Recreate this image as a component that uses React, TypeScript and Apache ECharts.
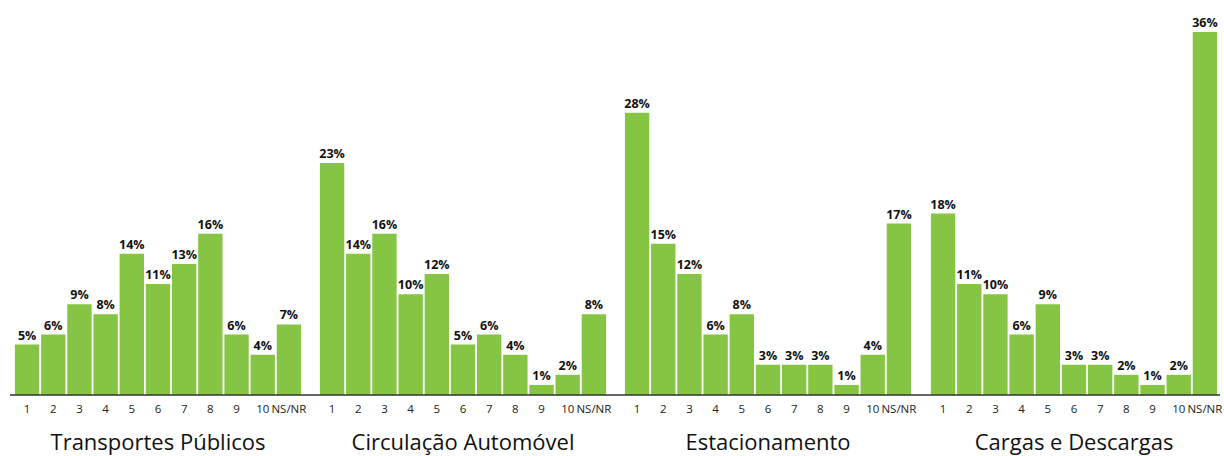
import React, { useEffect, useRef } from "react";
import * as echarts from "echarts";

const categories = ["1", "2", "3", "4", "5", "6", "7", "8", "9", "10", "NS/NR"];
const groupNames = ["Transportes Públicos", "Circulação Automóvel", "Estacionamento", "Cargas e Descargas"];
const transportesPublicos = [5, 6, 9, 8, 14, 11, 13, 16, 6, 4, 7];
const circulacaoAutomovel = [23, 14, 16, 10, 12, 5, 6, 4, 1, 2, 8];
const estacionamento = [28, 15, 12, 6, 8, 3, 3, 3, 1, 4, 17];
const cargasDescargas = [18, 11, 10, 6, 9, 3, 3, 2, 1, 2, 36];
const groupValues = [transportesPublicos, circulacaoAutomovel, estacionamento, cargasDescargas];

const FONT = "'Open Sans', 'Noto Sans', sans-serif";
const GREEN = "#86c443";

export default function App() {
  const ref = useRef<HTMLDivElement>(null);
  useEffect(() => {
    if (!ref.current) return;
    const chart = echarts.init(ref.current, null, { renderer: "svg" });
    const lefts = [14, 319, 624, 930];
    const grids = lefts.map((l) => ({
      left: l,
      width: 288,
      top: 32,
      bottom: 61,
      containLabel: false,
      outerBoundsMode: "none",
    }));
    const xAxes = lefts.map((_, i) => ({
      type: "category",
      gridIndex: i,
      data: categories,
      axisLine: { show: false },
      axisTick: { show: false },
      axisLabel: { color: "#222", fontSize: 11.5, fontFamily: FONT, margin: 7, interval: 0 },
      name: groupNames[i],
      nameLocation: "middle",
      nameGap: 35,
      nameTextStyle: { color: "#111", fontSize: 22, fontFamily: FONT },
    }));
    const yAxes = lefts.map((_, i) => ({
      type: "value",
      gridIndex: i,
      min: 0,
      max: 36,
      show: false,
    }));
    const series = groupValues.map((vals, i) => ({
      type: "bar",
      xAxisIndex: i,
      yAxisIndex: i,
      data: vals,
      barCategoryGap: "7%",
      itemStyle: { color: GREEN },
      label: {
        show: true,
        position: "top",
        distance: 3,
        formatter: (p: any) => `${Math.round(p.value)}%`,
        color: "#111",
        fontSize: 12.5,
        fontWeight: "bold",
        fontFamily: FONT,
      },
    }));
    chart.setOption({
      animation: false,
      backgroundColor: "#fff",
      grid: grids,
      xAxis: xAxes,
      yAxis: yAxes,
      series,
      graphic: [
        {
          type: "line",
          shape: { x1: 10, y1: 395, x2: 1220, y2: 395 },
          style: { stroke: "#333", lineWidth: 1.5 },
          z: 10,
        },
      ],
    });
    return () => chart.dispose();
  }, []);
  return (
    <div
      ref={ref}
      style={{ position: "absolute", left: 0, top: 0, width: 1224, height: 456 }}
    />
  );
}
